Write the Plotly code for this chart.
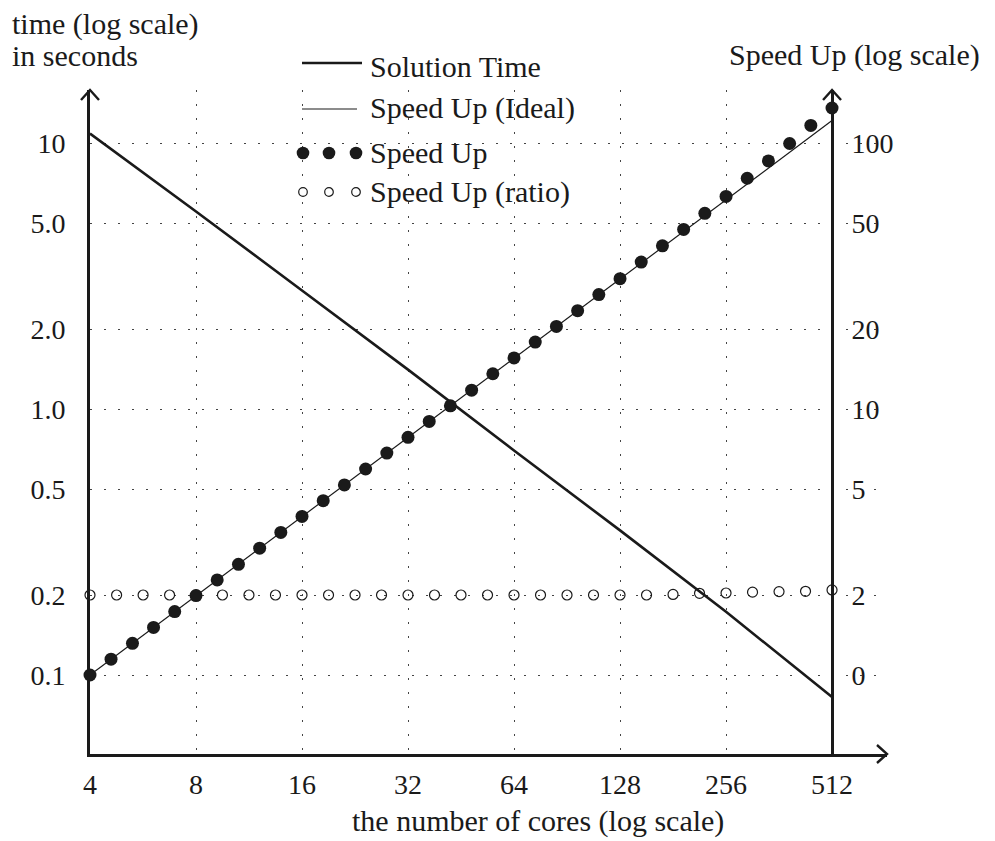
import math
import plotly.graph_objects as go

# ---------------- data ----------------
x_ticks = [4, 8, 16, 32, 64, 128, 256, 512]
x_ticktext = ["4", "8", "16", "32", "64", "128", "256", "512"]

time_ticks = [0.1, 0.2, 0.5, 1, 2, 5, 10]
time_ticktext = ["0.1", "0.2", "0.5", "1.0", "2.0", "5.0", "10"]

speed_ticks = [1, 2, 5, 10, 20, 50, 100]
speed_ticktext = ["0", "2", "5", "10", "20", "50", "100"]

sol_cores = [4, 8, 16, 32, 64, 128, 256, 512]
sol_time = [10.9, 5.55, 2.8, 1.41, 0.70, 0.35, 0.173, 0.0826]

ideal_cores = [4, 512]
ideal_speedup = [1.0, 122.0]

speedup_cores = [4, 4.59, 5.28, 6.06, 6.96, 8, 9.19, 10.56, 12.13, 13.93,
                 16, 18.38, 21.11, 24.25, 27.86, 32, 36.76, 42.22, 48.5, 55.72,
                 64, 73.52, 84.45, 97.01, 111.43, 128, 147.03, 168.9, 194.01, 222.86,
                 256, 294.07, 337.79, 388.02, 445.72, 512]
speedup = [1.00, 1.147, 1.316, 1.51, 1.732, 1.99, 2.28, 2.61, 3.0, 3.44,
           3.95, 4.53, 5.19, 5.96, 6.84, 7.84, 9.0, 10.3, 11.8, 13.6,
           15.6, 17.9, 20.5, 23.5, 27.0, 31.0, 35.8, 41.2, 47.5, 54.6,
           63.2, 74.0, 86.0, 100.0, 117.0, 136.0]

ratio_cores = [4, 4.76, 5.66, 6.73, 8, 9.51, 11.31, 13.45, 16, 19.03,
               22.63, 26.91, 32, 38.05, 45.25, 53.82, 64, 76.11, 90.51, 107.63,
               128, 152.22, 181.02, 215.27, 256, 304.44, 362.04, 430.54, 512]
ratio = [2.0, 2.0, 2.0, 2.0, 2.0, 2.0, 2.0, 2.0, 2.0, 2.0,
         2.0, 2.0, 2.0, 2.0, 2.0, 2.0, 2.0, 2.0, 2.0, 2.0,
         2.0, 2.0, 2.01, 2.03, 2.035, 2.05, 2.06, 2.065, 2.09]

# ---------------- layout geometry ----------------
W, H = 995, 841
ML, MR, MT, MB = 90, 108, 90, 87
PW, PH = W - ML - MR, H - MT - MB

X_DEC = 352.14      # px per decade on x
Y_DEC = 265.75      # px per decade on y
x0 = math.log10(4) - 1e-6
x_range = [x0, x0 + PW / X_DEC]
y_top = 1 + 53.5 / Y_DEC
y_range = [y_top - PH / Y_DEC, y_top]
y2_range = [y_range[0] + 1, y_range[1] + 1]
right_pos = (math.log10(512) - x_range[0]) / (x_range[1] - x_range[0])

FONT = "Liberation Serif"
BLACK = "#1a1a1a"
GRID = "#444444"


def px(xp):
    return (xp - ML) / PW


def py(yp):
    return (MT + PH - yp) / PH


fig = go.Figure()

fig.add_trace(go.Scatter(x=sol_cores, y=sol_time, mode="lines",
                         line=dict(color=BLACK, width=2.6), name="Solution Time",
                         showlegend=False, cliponaxis=False))
fig.add_trace(go.Scatter(x=ideal_cores, y=ideal_speedup, mode="lines", yaxis="y2",
                         line=dict(color=BLACK, width=1.2), name="Speed Up (Ideal)",
                         showlegend=False, cliponaxis=False))
fig.add_trace(go.Scatter(x=ratio_cores, y=ratio, mode="markers", yaxis="y2",
                         marker=dict(symbol="circle-open", size=10, color=BLACK,
                                     line=dict(width=1.2, color=BLACK)),
                         name="Speed Up (ratio)", showlegend=False, cliponaxis=False))
fig.add_trace(go.Scatter(x=speedup_cores, y=speedup, mode="markers", yaxis="y2",
                         marker=dict(symbol="circle", size=13, color=BLACK),
                         name="Speed Up", showlegend=False, cliponaxis=False))

shapes = []


def arrow(tip_x, tip_y, direction):
    if direction == "up":
        pts = [(tip_x - 9, tip_y + 10), (tip_x, tip_y), (tip_x + 9, tip_y + 10)]
    else:
        pts = [(tip_x - 10, tip_y - 9), (tip_x, tip_y), (tip_x - 10, tip_y + 9)]
    path = "M {} {} L {} {} L {} {}".format(
        px(pts[0][0]), py(pts[0][1]), px(pts[1][0]), py(pts[1][1]),
        px(pts[2][0]), py(pts[2][1]))
    return dict(type="path", xref="paper", yref="paper", path=path,
                line=dict(color=BLACK, width=2.4), layer="above")


right_px = ML + right_pos * PW
shapes.append(arrow(ML, MT, "up"))
shapes.append(arrow(right_px, MT, "up"))
shapes.append(arrow(ML + PW, MT + PH, "right"))

# legend samples
shapes.append(dict(type="line", xref="paper", yref="paper",
                   x0=px(302), x1=px(362), y0=py(63), y1=py(63),
                   line=dict(color=BLACK, width=2.6)))
shapes.append(dict(type="line", xref="paper", yref="paper",
                   x0=px(302), x1=px(357), y0=py(109), y1=py(109),
                   line=dict(color=BLACK, width=1.2)))
for cx in (303, 329, 356):
    r = 6.3
    shapes.append(dict(type="circle", xref="paper", yref="paper",
                       x0=px(cx - r), x1=px(cx + r), y0=py(153 + r), y1=py(153 - r),
                       fillcolor=BLACK, line=dict(width=0)))
    r2 = 4.3
    shapes.append(dict(type="circle", xref="paper", yref="paper",
                       x0=px(cx - r2), x1=px(cx + r2), y0=py(192 + r2), y1=py(192 - r2),
                       fillcolor="white", line=dict(color=BLACK, width=1.2)))

annotations = []


def label(text, xp, yp, anchor="left", size=30):
    annotations.append(dict(text=text, xref="paper", yref="paper",
                            x=px(xp), y=py(yp), xanchor=anchor, yanchor="middle",
                            showarrow=False, font=dict(family=FONT, size=size, color=BLACK)))


label("Solution Time", 368, 66)
label("Speed Up (Ideal)", 368, 108)
label("Speed Up", 368, 153)
label("Speed Up (ratio)", 368, 192)
label("time (log scale)", 10, 24)
label("in seconds", 10, 55)
label("Speed Up (log scale)", 727, 55)
label("the number of cores (log scale)", 350, 821)

fig.update_layout(
    width=W, height=H,
    margin=dict(l=ML, r=MR, t=MT, b=MB, autoexpand=False),
    paper_bgcolor="white", plot_bgcolor="white",
    font=dict(family=FONT, size=28, color=BLACK),
    showlegend=False,
    shapes=shapes, annotations=annotations,
    xaxis=dict(type="log", range=x_range, tickvals=x_ticks, ticktext=x_ticktext,
               automargin=False,
               showgrid=True, gridcolor=GRID, griddash="2px,12px", gridwidth=1.3,
               showline=True, linecolor=BLACK, linewidth=2.6, ticks="",
               ticklabelstandoff=4, zeroline=False,
               tickfont=dict(family=FONT, size=28, color=BLACK)),
    yaxis=dict(type="log", range=y_range, tickvals=time_ticks, ticktext=time_ticktext,
               automargin=False,
               showgrid=True, gridcolor=GRID, griddash="2px,12px", gridwidth=1.3,
               showline=True, linecolor=BLACK, linewidth=2.6, ticks="",
               ticklabelstandoff=16, zeroline=False,
               tickfont=dict(family=FONT, size=28, color=BLACK)),
    yaxis2=dict(type="log", range=y2_range, tickvals=speed_ticks, ticktext=speed_ticktext,
                automargin=False,
                overlaying="y", anchor="free", position=right_pos, side="right",
                showgrid=False, showline=True, linecolor=BLACK, linewidth=2.6,
                ticks="", ticklabelstandoff=12, zeroline=False,
                tickfont=dict(family=FONT, size=28, color=BLACK)),
)

fig.write_html("out.html",
               config={"displayModeBar": False},
               post_script="document.body.style.margin='0';document.body.style.overflow='hidden';")
